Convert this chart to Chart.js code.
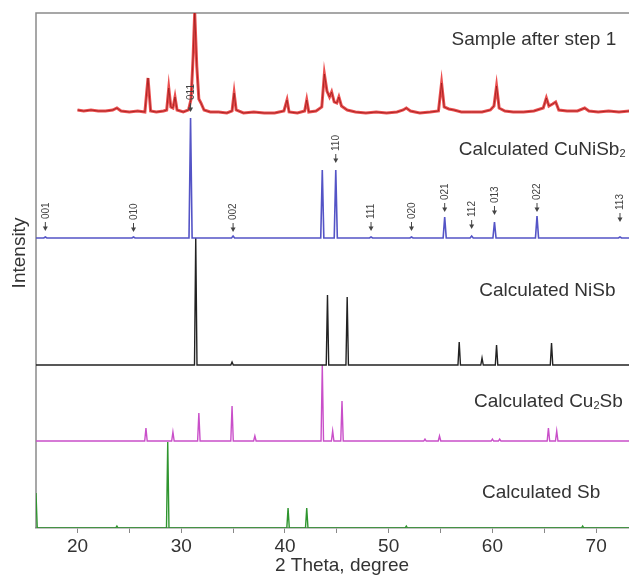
<!DOCTYPE html>
<html lang="en">
<head>
    <meta charset="UTF-8">
    <title>XRD patterns</title>
    <script src="https://cdn.jsdelivr.net/npm/chart.js"></script>
    <style>
        html, body {
            margin: 0;
            padding: 0;
            background: #fff;
            overflow: hidden;
        }
        .wrap {
            width: 660px;
            height: 575px;
        }
    </style>
</head>
<body>

    <div class="wrap"><canvas id="xrd" width="660" height="575"></canvas></div>

    <script>
        // 2 theta range and labelled ticks
        const xMin = 16, xMax = 75;
        const xTickLabels = [20, 30, 40, 50, 60, 70];

        // measured pattern, intensity above its own baseline
        const sampleTheta = [20.0, 20.6, 21.3, 22.0, 22.7, 23.4, 23.8, 24.2, 25.0, 25.8,
            26.5, 26.8, 27.05, 27.6, 28.3, 28.6, 28.8, 29.0, 29.2, 29.4,
            29.6, 30.2, 30.7, 30.95, 31.15, 31.3, 31.5, 31.7, 31.9, 32.2,
            32.8, 33.6, 34.4, 34.9, 35.1, 35.3, 36.0, 37.0, 38.0, 39.0,
            39.9, 40.2, 40.4, 41.2, 41.9, 42.1, 42.3, 43.0, 43.55, 43.8,
            44.05, 44.3, 44.5, 44.75, 45.0, 45.2, 45.45, 46.0, 46.8, 47.8,
            48.8, 49.8, 50.8, 51.4, 51.7, 52.1, 53.0, 54.0, 54.8, 55.1,
            55.35, 55.8, 56.3, 57.0, 58.0, 59.0, 59.8, 60.15, 60.4, 60.65,
            61.2, 62.0, 63.0, 64.0, 64.9, 65.2, 65.45, 65.8, 66.1, 66.4,
            67.2, 68.2, 68.9, 69.3, 70.2, 71.2, 72.2, 73.2, 74.2, 75.0];
        const sampleIntensity = [1, 0, 1, 0, 0, 1, 3, 0, -1, 0,
            -1, 33, 0, -1, 0, 1, 23, 4, 3, 14,
            1, -1, 1, 12, 55, 99, 45, 12, 8, 1,
            -1, -1, -2, 0, 18, 1, -2, -1, -2, -2,
            0, 11, -1, -2, 0, 11, -1, 0, 4, 37,
            20, 14, 19, 9, 8, 14, 5, 1, -1, -2,
            -1, -2, -1, 1, 3, 0, -2, -1, 0, 28,
            4, 2, 1, -1, -1, -1, 1, 5, 25, 3,
            0, -1, -1, 0, 3, 13, 5, 7, 9, 1,
            0, 0, 3, 0, -1, 0, -1, 0, 0, 0];

        // calculated patterns: peak positions and heights
        const cuNiSb2Pos = [16.9, 25.4, 30.9, 35.0, 43.6, 44.9, 48.3, 52.2, 55.4, 58.0, 60.2, 64.3, 72.3];
        const cuNiSb2Int = [1, 1, 120, 2, 68, 68, 1, 1, 21, 2, 16, 22, 1];

        const niSbPos = [31.4, 34.9, 44.1, 46.0, 56.8, 59.0, 60.4, 65.7];
        const niSbInt = [127, 3, 70, 68, 23, 7, 20, 22];

        const cu2SbPos = [26.6, 29.2, 31.7, 34.9, 37.1, 43.6, 44.6, 45.5, 53.5, 54.9, 60.0, 60.7, 65.4, 66.2];
        const cu2SbInt = [13, 9, 28, 35, 5, 76, 10, 40, 2, 5, 2, 2, 13, 10];

        const sbPos = [16.0, 23.8, 28.7, 40.3, 42.1, 51.7, 68.7];
        const sbInt = [35, 2, 86, 20, 20, 2, 2];

        // Miller indices marked on the CuNiSb2 pattern
        const hklLabels = ['001', '010', '011', '002', '110', '111', '020', '021', '112', '013', '022', '113'];
        const hklPos = [16.9, 25.4, 30.9, 35.0, 44.9, 48.3, 52.2, 55.4, 58.0, 60.2, 64.3, 72.3];

        // layout: stacking offsets, label spots (data units)
        const offsets = { sample: 417, cuNiSb2: 290, niSb: 163, cu2Sb: 87, sb: 0 };
        const hklTip = [297, 296, 416, 296, 365, 297, 297, 316, 299, 313, 316, 306];
        const nameLabels = [
            { parts: [['Sample after step 1', false]], x: 64.0, y: 488 },
            { parts: [['Calculated CuNiSb', false], ['2', true]], x: 64.8, y: 378 },
            { parts: [['Calculated NiSb', false]], x: 65.3, y: 237 },
            { parts: [['Calculated Cu', false], ['2', true], ['Sb', false]], x: 65.4, y: 126 },
            { parts: [['Calculated Sb', false]], x: 64.7, y: 35 }
        ];

        const FONT = '"Liberation Sans", Arial, sans-serif';

        function sticks(pos, h, base, hw) {
            const pts = [{ x: xMin - 1, y: base }];
            pos.forEach((p, i) => {
                pts.push({ x: p - hw, y: base }, { x: p, y: base + h[i] }, { x: p + hw, y: base });
            });
            pts.push({ x: xMax + 1, y: base });
            return pts;
        }

        const samplePts = sampleTheta.map((t, i) => ({ x: t, y: offsets.sample + sampleIntensity[i] }));

        function line(data, color, width, order) {
            return {
                data: data,
                showLine: true,
                borderColor: color,
                borderWidth: width,
                pointRadius: 0,
                tension: 0,
                order: order
            };
        }

        const labelPlugin = {
            id: 'labels',
            beforeDatasetsDraw(chart) {
                const { ctx, chartArea: a } = chart;
                ctx.save();
                ctx.strokeStyle = '#8a8a8a';
                ctx.lineWidth = 1.5;
                ctx.beginPath();
                ctx.moveTo(a.left, a.bottom);
                ctx.lineTo(a.left, a.top);
                ctx.lineTo(a.right, a.top);
                ctx.stroke();
                ctx.restore();
            },
            afterDatasetsDraw(chart) {
                const { ctx } = chart;
                const xs = chart.scales.x, ys = chart.scales.y;
                ctx.save();
                ctx.fillStyle = '#333';

                // pattern names
                ctx.textBaseline = 'middle';
                ctx.textAlign = 'left';
                nameLabels.forEach(l => {
                    let w = 0;
                    l.parts.forEach(([t, sub]) => {
                        ctx.font = (sub ? '11px ' : '19px ') + FONT;
                        w += ctx.measureText(t).width;
                    });
                    let x = xs.getPixelForValue(l.x) - w / 2;
                    const y = ys.getPixelForValue(l.y);
                    l.parts.forEach(([t, sub]) => {
                        ctx.font = (sub ? '11px ' : '19px ') + FONT;
                        ctx.fillText(t, x, sub ? y + 4 : y);
                        x += ctx.measureText(t).width;
                    });
                });

                // y title
                ctx.font = '19px ' + FONT;
                ctx.textAlign = 'center';
                ctx.translate(20, ys.getPixelForValue(275));
                ctx.rotate(-Math.PI / 2);
                ctx.fillText('Intensity', 0, 0);
                ctx.setTransform(1, 0, 0, 1, 0, 0);

                // hkl arrows
                ctx.font = '10px ' + FONT;
                ctx.textAlign = 'left';
                ctx.fillStyle = '#444';
                ctx.strokeStyle = '#444';
                ctx.lineWidth = 1;
                hklLabels.forEach((t, i) => {
                    const x = xs.getPixelForValue(hklPos[i]);
                    const y = ys.getPixelForValue(hklTip[i]);
                    ctx.beginPath();
                    ctx.moveTo(x, y);
                    ctx.lineTo(x - 2.5, y - 4.5);
                    ctx.lineTo(x + 2.5, y - 4.5);
                    ctx.closePath();
                    ctx.fill();
                    ctx.beginPath();
                    ctx.moveTo(x, y - 4);
                    ctx.lineTo(x, y - 9);
                    ctx.stroke();
                    ctx.save();
                    ctx.translate(x, y - 12);
                    ctx.rotate(-Math.PI / 2);
                    ctx.fillText(t, 0, 0.5);
                    ctx.restore();
                });
                ctx.restore();
            }
        };

        new Chart(document.getElementById('xrd').getContext('2d'), {
            type: 'scatter',
            data: {
                datasets: [
                    line(samplePts, '#9a1c1c', 0.8, 0),
                    line(samplePts, 'rgba(232, 48, 48, 0.85)', 3, 1),
                    line(sticks(cuNiSb2Pos, cuNiSb2Int, offsets.cuNiSb2, 0.15), '#5454c6', 1.6, 2),
                    line(sticks(niSbPos, niSbInt, offsets.niSb, 0.12), '#222222', 1.4, 3),
                    line(sticks(cu2SbPos, cu2SbInt, offsets.cu2Sb, 0.12), '#c94fc9', 1.4, 4),
                    line(sticks(sbPos, sbInt, offsets.sb, 0.12), '#2f952f', 1.4, 5)
                ]
            },
            options: {
                responsive: false,
                animation: false,
                layout: { padding: { left: 36, top: 13, right: 12, bottom: 0 } },
                plugins: {
                    legend: { display: false },
                    tooltip: { enabled: false }
                },
                scales: {
                    x: {
                        type: 'linear',
                        min: xMin,
                        max: xMax,
                        afterFit: scale => { scale.height = 47; },
                        grid: { display: true, drawOnChartArea: false, tickLength: 5, color: '#888' },
                        border: { display: true, color: '#888', width: 1.5 },
                        ticks: {
                            stepSize: 5,
                            includeBounds: false,
                            maxRotation: 0,
                            padding: 4,
                            color: '#333',
                            font: { family: FONT, size: 19, lineHeight: 1 },
                            callback: v => xTickLabels.includes(v) ? String(v) : ''
                        },
                        title: {
                            display: true,
                            text: '2 Theta, degree',
                            color: '#333',
                            padding: { top: 0, bottom: 0 },
                            font: { family: FONT, size: 19, lineHeight: 1 }
                        }
                    },
                    y: {
                        display: false,
                        min: 0,
                        max: 515
                    }
                }
            },
            plugins: [labelPlugin]
        });
    </script>

</body>
</html>
